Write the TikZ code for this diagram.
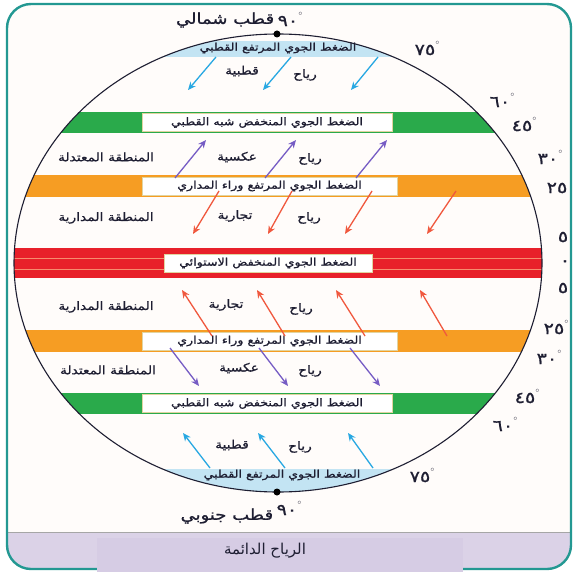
\documentclass[tikz,border=0pt]{standalone}
\usepackage{fontspec}
\usetikzlibrary{positioning,arrows.meta}
\TeXXeTstate=1
\newfontfamily\arabicfont[Script=Arabic,FakeStretch=1.2,FakeBold=1]{DejaVu Sans}
\newfontfamily\captionfont[Script=Arabic]{DejaVu Sans}
\definecolor{frameteal}{RGB}{35,152,146}
\definecolor{paper}{RGB}{255,252,250}
\definecolor{lavender}{RGB}{219,210,231}
\definecolor{captionlav}{RGB}{214,204,228}
\definecolor{polarband}{RGB}{195,228,243}
\definecolor{greenband}{RGB}{42,170,75}
\definecolor{orangeband}{RGB}{246,157,35}
\definecolor{redband}{RGB}{232,32,42}
\definecolor{stripe}{RGB}{246,140,110}
\definecolor{polarblue}{RGB}{40,168,226}
\definecolor{windpurple}{RGB}{118,92,196}
\definecolor{tradered}{RGB}{240,88,62}
\definecolor{inkblue}{RGB}{30,30,50}
\definecolor{bandedge}{RGB}{225,212,160}
\newcommand{\degmark}{\raisebox{11pt}{\scriptsize$\circ$}}
\tikzset{band label/.style={fill=white,draw=bandedge,line width=0.4pt,minimum height=18pt,inner sep=0pt,
    font=\arabicfont\fontsize{10.5}{12}\selectfont,text=inkblue},
  zone label/.style={font=\arabicfont\fontsize{11.5}{13}\selectfont,text=inkblue,inner sep=1pt},
  pole label/.style={font=\arabicfont\fontsize{15}{17}\selectfont,text=inkblue,inner sep=1pt},
  lat label/.style={font=\arabicfont\fontsize{16}{17}\selectfont,text=inkblue,inner sep=0pt},
  wind/.style={line width=1.3pt,-{Stealth[length=8pt,width=7pt]}},
  polar wind/.style={wind,polarblue},
  westerly/.style={wind,windpurple},
  trade/.style={wind,tradered},
}
\begin{document}
\begin{tikzpicture}[x=1pt,y=-1pt]
	\useasboundingbox (0,0) rectangle (572,572);
	\begin{scope}
		\clip[rounded corners=24pt] (7,4) rectangle (571,569);
		\fill[paper] (0,0) rectangle (572,572);
		\fill[lavender] (0,532) rectangle (572,572);
	\end{scope}
	\draw[gray!70,line width=0.8pt] (8,532) -- (570,532);
	\draw[frameteal,line width=2.4pt,rounded corners=24pt] (7,4) rectangle (571,569);
	\fill[captionlav] (97,538) rectangle (463,572);
	
	\begin{scope}
		\clip (278,263) ellipse [x radius=264pt,y radius=229pt];
		\fill[polarband] (0,41) rectangle (572,57);
		\fill[greenband] (0,112) rectangle (572,133);
		\fill[orangeband] (0,175) rectangle (572,197);
		\fill[redband] (0,248) rectangle (572,278);
		\draw[stripe,line width=1pt] (0,258) -- (572,258) (0,269) -- (572,269);
		\fill[orangeband] (0,330) rectangle (572,352);
		\fill[greenband] (0,393) rectangle (572,414);
		\fill[polarband] (0,469) rectangle (572,492);
	\end{scope}
	\draw[inkblue,line width=1.1pt] (278,263) ellipse [x radius=264pt,y radius=229pt];
	\fill[black] (277,34) circle [radius=3.5pt] (277,492) circle [radius=3.5pt];
	
	\node[band label,draw=none,fill=none] (polarhighN) at (278,48) {\beginR الضغط الجوي المرتفع القطبي\endR};
	\node[band label,minimum width=250pt] (subpolarN) at (267,122.5) {\beginR الضغط الجوي المنخفض شبه القطبي\endR};
	\node[band label,minimum width=255pt] (subtropN) at (269.5,186) {\beginR الضغط الجوي المرتفع وراء المداري\endR};
	\node[band label,minimum width=208pt] (equator) at (268,263) {\beginR الضغط الجوي المنخفض الاستوائي\endR};
	\node[band label,minimum width=255pt] (subtropS) at (269.5,341) {\beginR الضغط الجوي المرتفع وراء المداري\endR};
	\node[band label,minimum width=250pt] (subpolarS) at (267,403.5) {\beginR الضغط الجوي المنخفض شبه القطبي\endR};
	\node[band label,draw=none,fill=none] (polarhighS) at (282,475) {\beginR الضغط الجوي المرتفع القطبي\endR};
	
	\node[lat label] (n90) at (290,19) {٩٠\degmark};
	\node[pole label,left=2pt of n90,yshift=-1pt] (npole) {\beginR قطب شمالي\endR};
	\node[lat label] (s90) at (289,508) {٩٠\degmark};
	\node[pole label,left=2pt of s90,yshift=-8pt] (spole) {\beginR قطب جنوبي\endR};
	
	\node[zone label] (polarN1) at (242,71) {\beginR قطبية\endR};
	\node[zone label] (polarN2) at (305,75) {\beginR رياح\endR};
	\node[zone label] (tempN) at (106,157) {\beginR المنطقة المعتدلة\endR};
	\node[zone label] (westN1) at (237,157) {\beginR عكسية\endR};
	\node[zone label] (westN2) at (310,159) {\beginR رياح\endR};
	\node[zone label] (tropN) at (106,218) {\beginR المنطقة المدارية\endR};
	\node[zone label] (tradeN1) at (235,216) {\beginR تجارية\endR};
	\node[zone label] (tradeN2) at (309,218) {\beginR رياح\endR};
	\node[zone label] (tropS) at (106,307) {\beginR المنطقة المدارية\endR};
	\node[zone label] (tradeS1) at (226,305) {\beginR تجارية\endR};
	\node[zone label] (tradeS2) at (301,309) {\beginR رياح\endR};
	\node[zone label] (tempS) at (108,370) {\beginR المنطقة المعتدلة\endR};
	\node[zone label] (westS1) at (239,368) {\beginR عكسية\endR};
	\node[zone label] (westS2) at (310,371) {\beginR رياح\endR};
	\node[zone label] (polarS1) at (232,445) {\beginR قطبية\endR};
	\node[zone label] (polarS2) at (300,447) {\beginR رياح\endR};
	
	\node[lat label] (lat75N) at (427,48) {٧٥\degmark};
	\node[lat label] (lat60N) at (502,100) {٦٠\degmark};
	\node[lat label] (lat45N) at (524,124) {٤٥\degmark};
	\node[lat label] (lat30N) at (550,157) {٣٠\degmark};
	\node[lat label] (lat25N) at (557,188) {٢٥};
	\node[lat label] (lat5N) at (563,237) {٥};
	\node[lat label] (lat0) at (565,263) {٠};
	\node[lat label] (lat5S) at (563,288) {٥};
	\node[lat label] (lat25S) at (556,327) {٢٥\degmark};
	\node[lat label] (lat30S) at (549,357) {٣٠\degmark};
	\node[lat label] (lat45S) at (527,396) {٤٥\degmark};
	\node[lat label] (lat60S) at (505,424) {٦٠\degmark};
	\node[lat label] (lat75S) at (422,475) {٧٥\degmark};
	
	\node[font=\captionfont\fontsize{15}{17}\selectfont,text=inkblue] (caption) at (265,551) {\beginR الرياح الدائمة\endR};
	
	\coordinate (pa1) at (216,57); \coordinate (pb1) at (188,90);
	\coordinate (pa2) at (291,57); \coordinate (pb2) at (263,90);
	\coordinate (pa3) at (378,57); \coordinate (pb3) at (351,90);
	\coordinate (wa1) at (175,178); \coordinate (wb1) at (206,140);
	\coordinate (wa2) at (265,178); \coordinate (wb2) at (296,140);
	\coordinate (wa3) at (356,178); \coordinate (wb3) at (387,140);
	\coordinate (ta1) at (219,191); \coordinate (tb1) at (193,234);
	\coordinate (ta2) at (292,191); \coordinate (tb2) at (268,234);
	\coordinate (ta3) at (372,191); \coordinate (tb3) at (345,234);
	\coordinate (ta4) at (456,191); \coordinate (tb4) at (427,234);
	\coordinate (tc1) at (212,336); \coordinate (td1) at (182,290);
	\coordinate (tc2) at (285,336); \coordinate (td2) at (257,290);
	\coordinate (tc3) at (365,336); \coordinate (td3) at (336,290);
	\coordinate (tc4) at (447,336); \coordinate (td4) at (420,290);
	\coordinate (wc1) at (170,348); \coordinate (wd1) at (199,386);
	\coordinate (wc2) at (259,348); \coordinate (wd2) at (288,386);
	\coordinate (wc3) at (350,348); \coordinate (wd3) at (380,386);
	\coordinate (pc1) at (210,468); \coordinate (pd1) at (183,433);
	\coordinate (pc2) at (285,468); \coordinate (pd2) at (258,433);
	\coordinate (pc3) at (373,468); \coordinate (pd3) at (348,433);
	
	\path
	(pa1) edge[polar wind] (pb1)
	(pa2) edge[polar wind] (pb2)
	(pa3) edge[polar wind] (pb3)
	(wa1) edge[westerly] (wb1)
	(wa2) edge[westerly] (wb2)
	(wa3) edge[westerly] (wb3)
	(ta1) edge[trade] (tb1)
	(ta2) edge[trade] (tb2)
	(ta3) edge[trade] (tb3)
	(ta4) edge[trade] (tb4)
	(tc1) edge[trade] (td1)
	(tc2) edge[trade] (td2)
	(tc3) edge[trade] (td3)
	(tc4) edge[trade] (td4)
	(wc1) edge[westerly] (wd1)
	(wc2) edge[westerly] (wd2)
	(wc3) edge[westerly] (wd3)
	(pc1) edge[polar wind] (pd1)
	(pc2) edge[polar wind] (pd2)
	(pc3) edge[polar wind] (pd3);
\end{tikzpicture}
\end{document}
